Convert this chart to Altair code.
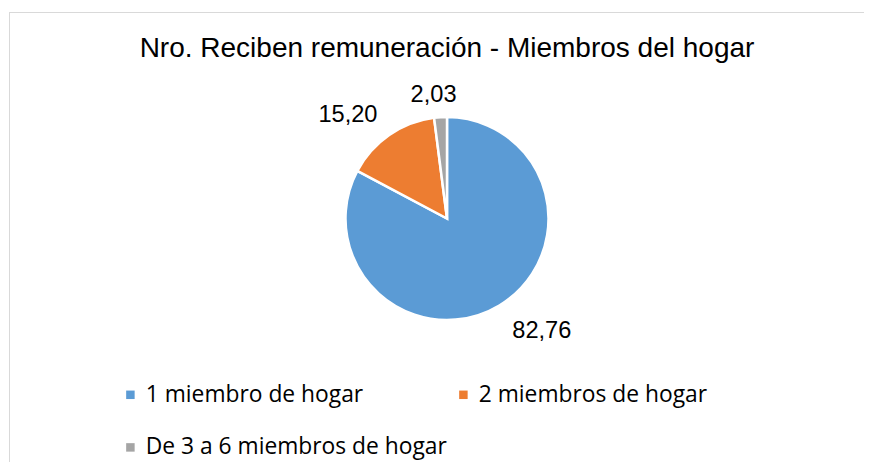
import altair as alt
import pandas as pd

categorias = ["1 miembro de hogar", "2 miembros de hogar", "De 3 a 6 miembros de hogar"]
valores = [82.76, 15.20, 2.03]
etiquetas = ["82,76", "15,20", "2,03"]
colores = ["#5B9BD5", "#ED7D31", "#A5A5A5"]

df = pd.DataFrame({"categoria": categorias, "valor": valores, "etiqueta": etiquetas})

W, H = 855, 450
CX, CY = 438, 206.5
R = 101.5
FONT = "Liberation Sans, Arial"

color_scale = alt.Scale(domain=categorias, range=colores)

base = alt.Chart(df).encode(
    theta=alt.Theta("valor:Q", stack=True),
    order=alt.Order("categoria:N"),
)

pie = base.mark_arc(x=CX, y=CY, outerRadius=R, stroke="white", strokeWidth=2.5).encode(
    color=alt.Color(
        "categoria:N",
        scale=color_scale,
        legend=alt.Legend(
            title=None,
            orient="none",
            legendX=110,
            legendY=371,
            columns=2,
            direction="horizontal",
            symbolType="square",
            symbolSize=72,
            symbolStrokeWidth=0,
            labelFont="Open Sans",
            labelFontSize=22.8,
            labelColor="#000000",
            labelOffset=4,
            rowPadding=29,
            columnPadding=5,
            labelLimit=0,
            padding=0,
        ),
    ),
)

ang_expr = "2*PI*(datum.cum - datum.valor/2)/datum.total"
text = (
    base.transform_joinaggregate(total="sum(valor)")
    .transform_window(cum="sum(valor)", sort=[alt.SortField("categoria")], frame=[None, 0])
    .transform_calculate(ang=ang_expr)
    .mark_text(
        x=CX,
        y=CY,
        radius=117,
        font=FONT,
        fontSize=23.6,
        color="#000000",
        dx={"expr": "sin(datum.ang) > 0.3 ? 5 : (sin(datum.ang) < -0.3 ? -3 : -6)"},
        align={"expr": "sin(datum.ang) > 0.3 ? 'left' : (sin(datum.ang) < -0.3 ? 'right' : 'center')"},
        baseline={"expr": "cos(datum.ang) > 0.3 ? 'alphabetic' : (cos(datum.ang) < -0.3 ? 'top' : 'middle')"},
    )
    .encode(text="etiqueta:N")
)

border_left = alt.Chart(df).mark_rule(color="#d9d9d9", strokeWidth=1).encode(
    x=alt.value(0.5), y=alt.value(0), y2=alt.value(H)
)
border_top = alt.Chart(df).mark_rule(color="#d9d9d9", strokeWidth=1).encode(
    x=alt.value(0), x2=alt.value(W), y=alt.value(0.5)
)

chart = (
    alt.layer(border_left, border_top, pie, text)
    .properties(
        width=W,
        height=H,
        padding={"left": 1, "top": 4, "right": 0, "bottom": 0},
        autosize=alt.AutoSizeParams(type="none"),
        title=alt.TitleParams(
            "Nro. Reciben remuneración - Miembros del hogar",
            font=FONT,
            fontSize=28,
            fontWeight="normal",
            color="#000000",
            anchor="middle",
            frame="group",
            offset=-51,
            dx=10.5,
        ),
    )
    .configure_view(stroke="transparent", strokeWidth=0)
    .configure(background="white")
)

chart.save("out.html", embed_options={"renderer": "svg", "actions": False})
